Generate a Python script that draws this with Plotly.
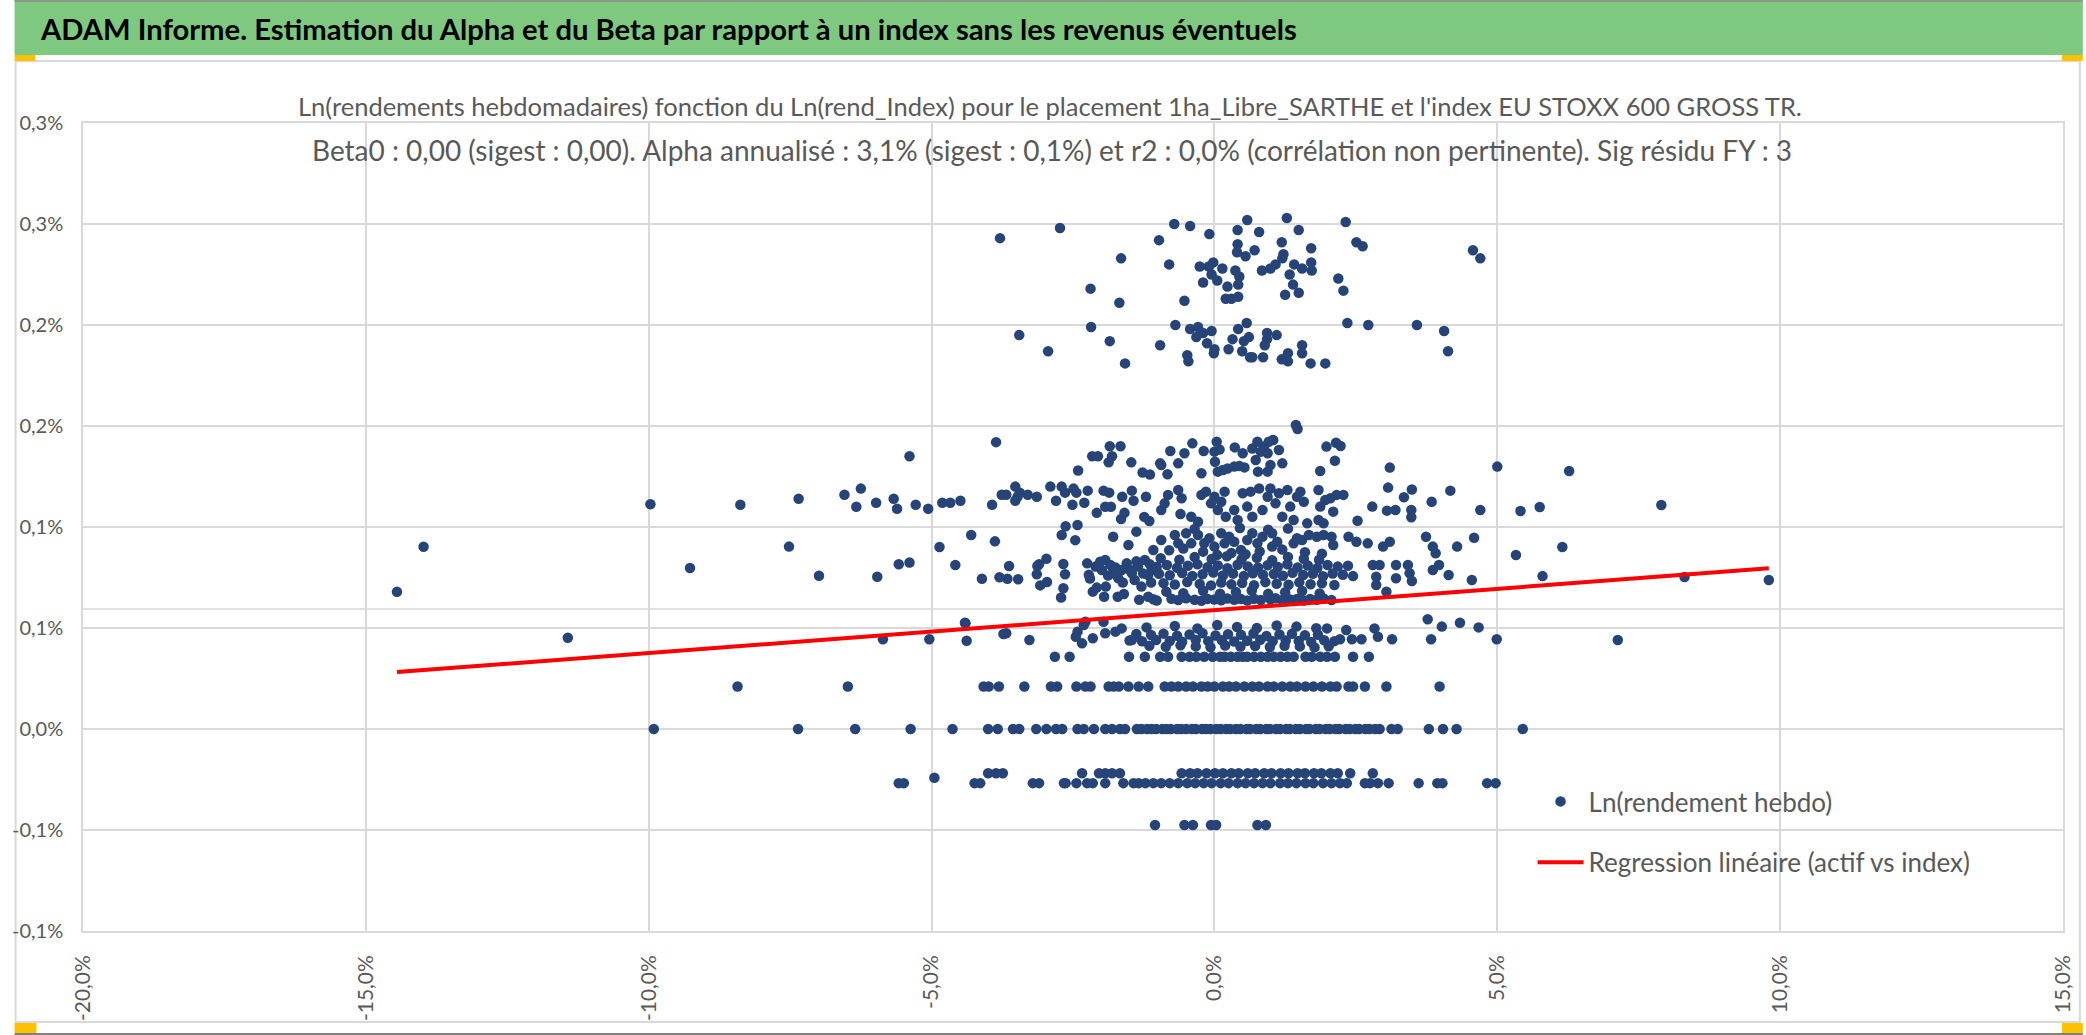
import plotly.graph_objects as go

# ---------------------------------------------------------------
# Data (both axes in percent)
# ---------------------------------------------------------------
# upper cluster (0,18 % .. 0,25 %)
upper_pts = [
    (-2.73, 0.248), (-0.71, 0.250), (-0.43, 0.249), (0.58, 0.252), (1.28, 0.253), (2.32, 0.251),
    (-0.98, 0.242), (-0.09, 0.245), (0.41, 0.247), (0.79, 0.246), (1.49, 0.247), (-1.65, 0.233),
    (-0.80, 0.230), (0.41, 0.240), (0.40, 0.236), (0.55, 0.234), (0.71, 0.237), (1.19, 0.241),
    (1.22, 0.235), (1.20, 0.233), (1.71, 0.238), (1.71, 0.231), (2.51, 0.241), (2.62, 0.239),
    (4.57, 0.237), (4.70, 0.233), (-0.26, 0.229), (-0.02, 0.231), (-0.10, 0.229), (-0.05, 0.225),
    (0.05, 0.222), (0.14, 0.228), (-0.20, 0.221), (0.37, 0.227), (0.44, 0.224), (0.42, 0.220),
    (0.23, 0.219), (0.20, 0.213), (0.30, 0.213), (0.42, 0.214), (0.84, 0.227), (0.99, 0.228),
    (1.08, 0.230), (1.33, 0.225), (1.41, 0.230), (1.55, 0.228), (1.72, 0.227), (1.39, 0.220),
    (1.49, 0.216), (1.25, 0.215), (2.19, 0.223), (2.28, 0.217), (-2.19, 0.218), (-1.68, 0.211),
    (-0.53, 0.212), (-3.79, 0.243),
    (-3.45, 0.195), (-2.94, 0.187), (-2.18, 0.199), (-1.85, 0.192), (-1.58, 0.181), (-0.96, 0.190),
    (-0.69, 0.200), (-0.43, 0.198), (-0.29, 0.199), (-0.20, 0.196), (-0.32, 0.194), (-0.13, 0.191),
    (-0.05, 0.197), (-0.48, 0.185), (-0.46, 0.182), (0.00, 0.188), (-0.01, 0.186), (0.25, 0.188),
    (0.32, 0.193), (0.42, 0.198), (0.57, 0.201), (0.52, 0.192), (0.61, 0.194), (0.49, 0.187),
    (0.63, 0.184), (0.67, 0.184), (0.86, 0.184), (0.93, 0.196), (0.93, 0.193), (0.89, 0.190),
    (1.10, 0.195), (1.19, 0.183), (1.30, 0.186), (1.30, 0.182), (1.55, 0.190), (1.55, 0.186),
    (1.70, 0.181), (1.96, 0.181), (2.35, 0.201), (2.72, 0.200), (3.58, 0.200), (4.06, 0.197),
    (4.13, 0.187),
]

# middle cloud, left part (0,10 % .. 0,14 %)
mid_left_pts = [
    (-3.86, 0.142), (-5.39, 0.135), (-1.85, 0.140), (-1.66, 0.140), (-2.16, 0.135), (-2.06, 0.135),
    (-1.87, 0.132), (-1.81, 0.135), (-1.47, 0.132), (-2.41, 0.128), (-1.27, 0.127), (-1.14, 0.126),
    (-8.38, 0.111), (-7.35, 0.114), (-6.54, 0.116), (-6.25, 0.119), (-6.33, 0.110), (-5.98, 0.112),
    (-5.67, 0.114), (-5.61, 0.109), (-5.28, 0.111), (-5.06, 0.109), (-4.81, 0.112), (-4.67, 0.112),
    (-4.49, 0.113), (-3.93, 0.111), (-3.76, 0.116), (-3.68, 0.116), (-3.52, 0.120), (-3.52, 0.113),
    (-3.44, 0.117), (-3.48, 0.115), (-3.30, 0.116), (-3.14, 0.115), (-2.90, 0.120), (-2.80, 0.113),
    (-2.70, 0.120), (-2.64, 0.117), (-2.51, 0.111), (-2.49, 0.119), (-2.44, 0.117), (-2.30, 0.112),
    (-2.24, 0.118), (-2.08, 0.107), (-1.96, 0.118), (-1.86, 0.117), (-1.93, 0.110), (-1.83, 0.110),
    (-1.63, 0.115), (-1.65, 0.104), (-1.59, 0.107), (-1.46, 0.118), (-1.43, 0.113), (-1.21, 0.115),
    (-1.24, 0.105), (-1.15, 0.103),
]

# middle cloud, centre (0,125 % .. 0,15 %)
mid_a_pts = [
    (1.44, 0.1505), (1.47, 0.1485), (-0.96, 0.1315), (-0.94, 0.1307), (-0.83, 0.1261), (-0.78, 0.1376),
    (-0.64, 0.1315), (-0.53, 0.1365), (-0.39, 0.1414), (-0.19, 0.1376), (-0.23, 0.1266), (0.04, 0.1422),
    (0.00, 0.1373), (0.09, 0.1384), (0.01, 0.1323), (0.06, 0.1274), (0.15, 0.1282), (0.23, 0.1290),
    (0.35, 0.1299), (0.44, 0.1302), (0.53, 0.1295), (0.36, 0.1394), (0.50, 0.1365), (0.67, 0.1389),
    (0.76, 0.1422), (0.82, 0.1373), (0.88, 0.1398), (0.96, 0.1422), (1.04, 0.1431), (1.14, 0.1381),
    (0.94, 0.1365), (0.73, 0.1332), (0.77, 0.1274), (0.99, 0.1307), (0.94, 0.1274), (1.20, 0.1315),
    (1.98, 0.1398), (2.15, 0.1417), (2.23, 0.1401), (2.13, 0.1328), (1.87, 0.1277), (3.10, 0.1294),
    (5.00, 0.1299),
]

# middle cloud, centre (0,10 % .. 0,12 %)
mid_b_pts = [
    (-0.94, 0.1084), (-0.88, 0.1117), (-0.82, 0.1159), (-0.64, 0.1183), (-0.58, 0.1142), (-0.60, 0.1064),
    (-0.41, 0.1051), (-0.29, 0.1026), (-0.23, 0.1159), (-0.15, 0.1175), (-0.06, 0.1117), (0.00, 0.1150),
    (0.06, 0.1084), (0.12, 0.1125), (0.18, 0.1175), (0.20, 0.1051), (0.35, 0.1084), (0.41, 0.1035),
    (0.50, 0.1167), (0.58, 0.1101), (0.67, 0.1051), (0.64, 0.1175), (0.79, 0.1191), (0.85, 0.1084),
    (0.94, 0.1150), (0.99, 0.1191), (1.08, 0.1117), (1.14, 0.1167), (1.20, 0.1051), (1.29, 0.1183),
    (1.34, 0.1101), (1.40, 0.1035), (1.46, 0.1150), (1.52, 0.1175), (1.58, 0.1125), (1.64, 0.1018),
    (1.84, 0.1183), (1.87, 0.1101), (1.96, 0.1134), (2.05, 0.1142), (2.10, 0.1076), (2.16, 0.1159),
    (2.28, 0.1159), (1.84, 0.1035), (1.93, 0.1018), (2.53, 0.1031), (2.79, 0.1101), (3.07, 0.1195),
    (3.05, 0.1081), (3.20, 0.1084), (3.35, 0.1147), (3.49, 0.1186), (3.48, 0.1084), (3.48, 0.1048),
    (3.84, 0.1125), (4.17, 0.1180), (4.70, 0.1084),
]

# middle cloud, centre (0,085 % .. 0,10 %)
mid_c_pts = [
    (-1.08, 0.0886), (-0.94, 0.0936), (-0.70, 0.0960), (-0.64, 0.0919), (-0.50, 0.0969), (-0.41, 0.0919),
    (-0.29, 0.0960), (-0.18, 0.0919), (-0.09, 0.0944), (0.00, 0.0903), (0.12, 0.0969), (0.18, 0.0919),
    (0.26, 0.0952), (0.35, 0.0927), (0.47, 0.0886), (0.58, 0.0936), (0.67, 0.0969), (0.76, 0.0919),
    (0.85, 0.0952), (1.02, 0.0969), (1.02, 0.0903), (1.11, 0.0927), (1.40, 0.0919), (1.46, 0.0944),
    (1.55, 0.0936), (1.67, 0.0960), (1.81, 0.0952), (1.93, 0.0960), (2.07, 0.0952), (2.10, 0.0911),
    (2.37, 0.0952), (2.51, 0.0927), (2.71, 0.0919), (2.98, 0.0903), (3.10, 0.0927), (3.74, 0.0952),
    (3.86, 0.0903), (3.91, 0.0870), (4.29, 0.0903), (4.59, 0.0947),
    (-0.80, 0.0885), (-0.55, 0.0893), (-0.20, 0.0878), (0.05, 0.0862), (0.30, 0.0871), (0.55, 0.0865),
    (0.80, 0.0879), (1.20, 0.0888), (1.60, 0.0875), (1.90, 0.0868), (-0.35, 0.0990), (0.45, 0.0995),
    (0.95, 0.0987), (1.30, 0.0992),
]

# left part of the 0,065 % .. 0,10 % cloud
low_left_pts = [
    (-7.52, 0.0903), (-6.99, 0.0759), (-5.96, 0.0754), (-5.58, 0.0816), (-5.39, 0.0824), (-4.86, 0.0901),
    (-4.58, 0.0812), (-4.30, 0.0960), (-3.88, 0.0929), (-4.11, 0.0744), (-3.80, 0.0751), (-3.66, 0.0744),
    (-3.63, 0.0807), (-3.47, 0.0741), (-3.14, 0.0766), (-3.10, 0.0815), (-2.97, 0.0843), (-3.13, 0.0807),
    (-3.08, 0.0711), (-2.96, 0.0728), (-2.70, 0.0960), (-2.63, 0.1004), (-2.42, 0.1010), (-2.46, 0.0935),
    (-2.67, 0.0817), (-2.64, 0.0766), (-2.67, 0.0697), (-2.71, 0.0651), (-2.22, 0.0763), (-2.25, 0.0820),
    (-2.08, 0.0700), (-1.92, 0.0705),
    (-2.10, 0.0804), (-1.99, 0.0787), (-1.93, 0.0837), (-1.84, 0.0812), (-1.79, 0.0771), (-1.70, 0.0746),
    (-1.64, 0.0787), (-1.55, 0.0820), (-1.46, 0.0771), (-1.41, 0.0738), (-1.35, 0.0804), (-1.29, 0.0705),
    (-1.23, 0.0837), (-1.17, 0.0762), (-1.11, 0.0787), (-1.79, 0.0952), (-1.52, 0.0911), (-1.38, 0.0977),
    (-1.71, 0.0655), (-1.17, 0.0655),
    (-2.20, 0.0745), (-2.02, 0.0828), (-1.88, 0.0760), (-1.75, 0.0800), (-1.62, 0.0725), (-1.50, 0.0790),
    (-1.38, 0.0830), (-1.26, 0.0770), (-1.14, 0.0815), (-2.15, 0.0680), (-1.95, 0.0655), (-1.60, 0.0668),
    (-1.33, 0.0640), (-1.12, 0.0725),
]

# right part of the same cloud
low_right_pts = [
    (2.45, 0.0757), (2.80, 0.0812), (2.86, 0.0754), (2.92, 0.0812), (2.86, 0.0713), (3.04, 0.0680),
    (3.21, 0.0812), (3.21, 0.0746), (3.42, 0.0812), (3.45, 0.0771), (3.49, 0.0733), (3.86, 0.0787),
    (3.97, 0.0812), (4.14, 0.0762), (4.55, 0.0738),
]

# dense core (0,063 % .. 0,085 %)
core_pts = [
    (-0.95, 0.0845), (-0.62, 0.0838), (-0.35, 0.0851), (-0.05, 0.0842), (0.22, 0.0855), (0.48, 0.0840),
    (0.75, 0.0848), (1.02, 0.0836), (1.30, 0.0852), (1.58, 0.0843), (1.85, 0.0838),
    (-1.02, 0.0803), (-0.84, 0.0812), (-0.66, 0.0798), (-0.47, 0.0808), (-0.30, 0.0815), (-0.12, 0.0801),
    (0.06, 0.0810), (0.23, 0.0796), (0.41, 0.0813), (0.59, 0.0805), (0.77, 0.0799), (0.94, 0.0811),
    (1.12, 0.0802), (1.29, 0.0816), (1.47, 0.0800), (1.65, 0.0809), (1.82, 0.0797), (2.00, 0.0812),
    (2.18, 0.0804), (2.36, 0.0808),
    (-0.98, 0.0768), (-0.79, 0.0761), (-0.57, 0.0772), (-0.39, 0.0758), (-0.21, 0.0766), (-0.02, 0.0775),
    (0.15, 0.0760), (0.33, 0.0769), (0.52, 0.0757), (0.68, 0.0771), (0.86, 0.0763), (1.05, 0.0767),
    (1.21, 0.0759), (1.38, 0.0773), (1.57, 0.0762), (1.74, 0.0768), (1.92, 0.0756), (2.09, 0.0770),
    (2.27, 0.0764),
    (-0.90, 0.0722), (-0.70, 0.0715), (-0.48, 0.0728), (-0.26, 0.0718), (-0.06, 0.0711), (0.12, 0.0725),
    (0.30, 0.0716), (0.49, 0.0723), (0.70, 0.0712), (0.90, 0.0727), (1.10, 0.0719), (1.31, 0.0714),
    (1.50, 0.0726), (1.70, 0.0717), (1.90, 0.0721), (2.12, 0.0713),
    (-0.85, 0.0680), (-0.55, 0.0672), (-0.20, 0.0684), (0.10, 0.0670), (0.38, 0.0678), (0.66, 0.0686),
    (0.95, 0.0669), (1.25, 0.0677), (1.55, 0.0683), (1.86, 0.0671),
    (-1.08, 0.0642), (-1.02, 0.0636), (-0.76, 0.0645), (-0.64, 0.0639), (-0.50, 0.0647), (-0.35, 0.0640),
    (-0.23, 0.0635), (-0.12, 0.0644), (0.00, 0.0641), (0.12, 0.0637), (0.23, 0.0646), (0.35, 0.0640),
    (0.47, 0.0643), (0.58, 0.0636), (0.70, 0.0645), (0.82, 0.0639), (0.99, 0.0642), (1.08, 0.0647),
    (1.20, 0.0638), (1.34, 0.0641), (1.46, 0.0644), (1.58, 0.0636), (1.69, 0.0643), (1.81, 0.0640),
    (1.93, 0.0646), (2.07, 0.0638),
]

# dense band just under the regression line (0,040 % .. 0,051 %)
band043_pts = [
    (-1.20, 0.0503), (-0.70, 0.0510), (-0.30, 0.0498), (0.05, 0.0515), (0.40, 0.0505), (0.75, 0.0500),
    (1.10, 0.0512), (1.45, 0.0507), (1.80, 0.0499),
    (-1.38, 0.0470), (-1.12, 0.0465), (-0.90, 0.0472), (-0.66, 0.0462), (-0.44, 0.0468), (-0.21, 0.0474),
    (0.02, 0.0463), (0.24, 0.0469), (0.47, 0.0466), (0.69, 0.0473), (0.92, 0.0461), (1.15, 0.0468),
    (1.37, 0.0471), (1.60, 0.0464), (1.83, 0.0467),
    (-1.50, 0.0438), (-1.28, 0.0434), (-1.03, 0.0441), (-0.79, 0.0436), (-0.57, 0.0432), (-0.33, 0.0440),
    (-0.11, 0.0435), (0.13, 0.0439), (0.35, 0.0433), (0.58, 0.0437), (0.81, 0.0442), (1.03, 0.0434),
    (1.26, 0.0438), (1.49, 0.0436), (1.71, 0.0431), (1.94, 0.0439), (2.12, 0.0435),
    (-1.15, 0.0412), (-0.86, 0.0407), (-0.60, 0.0414), (-0.33, 0.0409), (-0.07, 0.0405), (0.19, 0.0413),
    (0.46, 0.0408), (0.72, 0.0411), (0.98, 0.0406), (1.24, 0.0412), (1.51, 0.0409), (1.77, 0.0404),
    (2.02, 0.0410),
    (-3.68, 0.0474), (-3.27, 0.0441), (-2.45, 0.0457), (-2.42, 0.0482), (-2.34, 0.0424), (-2.28, 0.0531),
    (-2.15, 0.0449), (-1.96, 0.0531), (-1.93, 0.0474), (-1.75, 0.0482), (-1.64, 0.0498), (-1.46, 0.0441),
    (1.99, 0.0498), (2.22, 0.0444), (2.33, 0.0490), (2.43, 0.0444), (2.60, 0.0444), (2.83, 0.0498),
    (2.89, 0.0457), (3.14, 0.0444), (3.77, 0.0543), (3.83, 0.0444), (4.02, 0.0507), (4.34, 0.0526),
    (4.67, 0.0503), (4.99, 0.0444),
]

# isolated points far from the centre
outlier_pts = [
    (-14.45, 0.0679), (-13.98, 0.0902), (-11.43, 0.0452), (-9.97, 0.1113), (-9.27, 0.0797),
    (-5.86, 0.0444), (-5.04, 0.0444), (-4.40, 0.0523), (-4.38, 0.0437), (-3.73, 0.0470),
    (-4.41, 0.0526), (-2.31, 0.0515), (-4.95, -0.0241),
    (6.27, 0.1277), (5.41, 0.1079), (5.75, 0.1099), (7.90, 0.1109), (5.33, 0.0861), (6.15, 0.0901),
    (5.80, 0.0757), (8.31, 0.0752), (9.80, 0.0738), (7.13, 0.0441),
]

# returns that sit on discrete levels
LVL_036 = 0.0358
lvl_036_x = [-2.82, -2.56, -1.51, -1.23, -0.96, -0.82, -0.58, -0.44, -0.32, -0.18, -0.03, 0.10, 0.18,
             0.29, 0.41, 0.50, 0.58, 0.70, 0.82, 0.94, 1.05, 1.17, 1.29, 1.40, 1.61, 1.72, 1.87, 1.99,
             2.13, 2.45, 2.73]
LVL_021 = 0.0210
lvl_021_x = [-8.43, -6.48, -4.08, -3.99, -3.81, -3.36, -2.89, -2.78, -2.44, -2.28, -2.19, -1.87, -1.78,
             -1.69, -1.52, -1.34, -1.17, -0.88, -0.76, -0.64, -0.50, -0.38, -0.23, -0.12, 0.00, 0.15,
             0.26, 0.38, 0.53, 0.67, 0.79, 0.94, 1.05, 1.20, 1.34, 1.46, 1.61, 1.75, 1.90, 2.05, 2.16,
             2.37, 2.45, 2.66, 3.04, 3.98]
LVL_000 = 0.0
lvl_000_x = [-9.91, -7.36, -6.35, -5.37, -4.63, -4.00, -3.83, -3.56, -3.45, -3.15, -2.97, -2.80, -2.69,
             -2.42, -2.31, -2.13, -1.93, -1.81, -1.67, -1.58, -1.37, -1.29, -1.19, -1.11, -1.03, -0.92,
             -0.85, -0.77, -0.66, -0.59, -0.50, -0.40, -0.33, -0.22, -0.15, -0.07, 0.03, 0.11, 0.21,
             0.28, 0.38, 0.46, 0.57, 0.63, 0.74, 0.81, 0.92, 0.98, 1.09, 1.16, 1.27, 1.33, 1.44, 1.51,
             1.62, 1.68, 1.79, 1.86, 1.97, 2.04, 2.14, 2.21, 2.32, 2.39, 2.49, 2.56, 2.67, 2.74, 2.84,
             2.92, 3.13, 3.24, 3.79, 4.04, 4.28, 5.45]
LVL_M022 = -0.0219
lvl_m022_x = [-4.00, -3.86, -3.74, -2.34, -2.04, -1.93, -1.81, -1.67, -0.58, -0.43, -0.30, -0.14, 0.01,
              0.15, 0.30, 0.43, 0.59, 0.72, 0.88, 1.01, 1.17, 1.31, 1.47, 1.60, 1.76, 1.89, 2.05, 2.18,
              2.40, 2.80]
LVL_M027 = -0.0268
lvl_m027_x = [-5.58, -5.49, -4.24, -4.14, -3.21, -3.10, -2.66, -2.63, -2.44, -2.25, -2.15, -1.93, -1.61,
              -1.43, -1.34, -1.22, -1.08, -0.94, -0.79, -0.64, -0.48, -0.34, -0.19, -0.05, 0.11, 0.25,
              0.41, 0.55, 0.70, 0.85, 0.99, 1.16, 1.30, 1.45, 1.61, 1.75, 1.92, 2.07, 2.22, 2.34, 2.66,
              2.75, 2.89, 3.08, 3.61, 3.94, 4.03, 4.82, 4.97]
LVL_M048 = -0.0475
lvl_m048_x = [-1.05, -0.53, -0.38, -0.06, 0.03, 0.76, 0.91]

ALPHA_WEEK = 0.0588
BETA = 0.00212
H_CROSS = 0.0594

x_tickvals = [-20, -15, -10, -5, 0, 5, 10, 15]
x_ticktext = ["-20,0%", "-15,0%", "-10,0%", "-5,0%", "0,0%", "5,0%", "10,0%", "15,0%"]
y_tickvals = [-0.1, -0.05, 0.0, 0.05, 0.1, 0.15, 0.2, 0.25, 0.3]
y_ticktext = ["-0,1%", "-0,1%", "0,0%", "0,1%", "0,1%", "0,2%", "0,2%", "0,3%", "0,3%"]

HEADER = "ADAM Informe. Estimation du Alpha et du Beta par rapport à un index sans les revenus éventuels"
TITLE_1 = ("Ln(rendements hebdomadaires) fonction du Ln(rend_Index) pour le placement "
           "1ha_Libre_SARTHE et l'index EU STOXX 600 GROSS TR.")
TITLE_2 = ("Beta0 : 0,00 (sigest : 0,00). Alpha annualisé : 3,1% (sigest : 0,1%) et r2 : 0,0% "
           "(corrélation non pertinente). Sig résidu FY : 3")

# ---------------------------------------------------------------
# build the series
# ---------------------------------------------------------------
pts = (upper_pts + mid_left_pts + mid_a_pts + mid_b_pts + mid_c_pts + low_left_pts
       + low_right_pts + core_pts + band043_pts + outlier_pts)
sx = [p[0] for p in pts]
sy = [p[1] for p in pts]
for lvl, xs in [(LVL_036, lvl_036_x), (LVL_021, lvl_021_x), (LVL_000, lvl_000_x),
                (LVL_M022, lvl_m022_x), (LVL_M027, lvl_m027_x), (LVL_M048, lvl_m048_x)]:
    sx += xs
    sy += [lvl] * len(xs)

reg_x = [min(sx), max(sx)]
reg_y = [ALPHA_WEEK + BETA * v for v in reg_x]

# ---------------------------------------------------------------
# style / geometry
# ---------------------------------------------------------------
W, H = 2086, 1035
ML, MR, MT, MB = 69, 20, 123, 104
PW, PH = W - ML - MR, H - MT - MB
FONT = "Lato, 'Open Sans', sans-serif"
GREY = "#595959"
GRID = "#d9d9d9"
BLUE = "#264478"
RED = "#ff0000"


def px(xp):
    return (xp - ML) / PW


def py(yp):
    return (H - MB - yp) / PH


fig = go.Figure()
fig.add_trace(go.Scatter(
    x=sx, y=sy, mode="markers", name="Ln(rendement hebdo)", legendgroup="a",
    marker=dict(color=BLUE, size=10.5, line=dict(width=0)),
))
fig.add_trace(go.Scatter(
    x=reg_x, y=reg_y, mode="lines", name="Regression linéaire (actif vs index)", legendgroup="b",
    line=dict(color=RED, width=4),
))

shapes = [
    # grey horizontal axis line
    dict(type="line", xref="paper", yref="y", x0=0, x1=1, y0=H_CROSS, y1=H_CROSS,
         line=dict(color=GRID, width=1.5), layer="below"),
    # green header band
    dict(type="rect", xref="paper", yref="paper", x0=px(0), x1=px(W), y0=py(55), y1=py(0),
         fillcolor="#7ec87f", line=dict(width=0), layer="below"),
    dict(type="line", xref="paper", yref="paper", x0=px(0), x1=px(W), y0=py(1), y1=py(1),
         line=dict(color="#8a9a8a", width=2)),
    # chart frame
    dict(type="rect", xref="paper", yref="paper", x0=px(1), x1=px(2083), y0=py(1022), y1=py(61),
         line=dict(color=GRID, width=2), layer="below"),
    # selection handles
    dict(type="rect", xref="paper", yref="paper", x0=px(0), x1=px(21), y0=py(61), y1=py(55),
         fillcolor="#ffc000", line=dict(width=0)),
    dict(type="rect", xref="paper", yref="paper", x0=px(2065), x1=px(W), y0=py(61), y1=py(55),
         fillcolor="#ffc000", line=dict(width=0)),
    dict(type="rect", xref="paper", yref="paper", x0=px(0), x1=px(22), y0=py(1033), y1=py(1023),
         fillcolor="#ffc000", line=dict(width=0)),
    dict(type="rect", xref="paper", yref="paper", x0=px(2065), x1=px(W), y0=py(1033), y1=py(1023),
         fillcolor="#ffc000", line=dict(width=0)),
    dict(type="line", xref="paper", yref="paper", x0=px(0), x1=px(W), y0=py(1034), y1=py(1034),
         line=dict(color="#7f7f7f", width=2)),
]

annotations = [
    dict(text="<b>" + HEADER + "</b>", xref="paper", yref="paper", x=px(24), y=py(28),
         xanchor="left", yanchor="middle", showarrow=False,
         font=dict(family=FONT, size=29.2, color="black")),
    dict(text=TITLE_1, xref="paper", yref="paper", x=px(1044), y=py(106),
         xanchor="center", yanchor="middle", showarrow=False,
         font=dict(family=FONT, size=25.5, color=GREY)),
    dict(text=TITLE_2, xref="paper", yref="paper", x=px(1046), y=py(150),
         xanchor="center", yanchor="middle", showarrow=False,
         font=dict(family=FONT, size=28, color=GREY)),
]

fig.update_layout(
    width=W, height=H, autosize=False,
    margin=dict(l=ML, r=MR, t=MT, b=MB),
    paper_bgcolor="white", plot_bgcolor="white",
    font=dict(family=FONT, color=GREY),
    shapes=shapes, annotations=annotations,
    showlegend=True,
    legend=dict(x=px(1531), y=py(778), xanchor="left", yanchor="top",
                bgcolor="rgba(0,0,0,0)", borderwidth=0, itemwidth=46,
                tracegroupgap=24, font=dict(family=FONT, size=26, color=GREY)),
)
fig.update_xaxes(
    range=[-20, 15], tickvals=x_tickvals, ticktext=x_ticktext, tickangle=-90,
    showgrid=True, gridcolor=GRID, gridwidth=1.5, zeroline=False,
    showline=True, linecolor=GRID, linewidth=1.5, mirror=True,
    ticks="outside", ticklen=14, tickcolor="rgba(0,0,0,0)",
    tickfont=dict(family=FONT, size=21, color=GREY),
)
fig.update_yaxes(
    range=[-0.1, 0.3], tickvals=y_tickvals, ticktext=y_ticktext,
    showgrid=True, gridcolor=GRID, gridwidth=1.5, zeroline=False,
    showline=True, linecolor=GRID, linewidth=1.5, mirror=True,
    ticks="outside", ticklen=14, tickcolor="rgba(0,0,0,0)",
    tickfont=dict(family=FONT, size=20, color=GREY),
)

fig.write_html("out.html", config={"displayModeBar": False},
               post_script="document.body.style.margin='0px';document.body.style.overflow='hidden';")
